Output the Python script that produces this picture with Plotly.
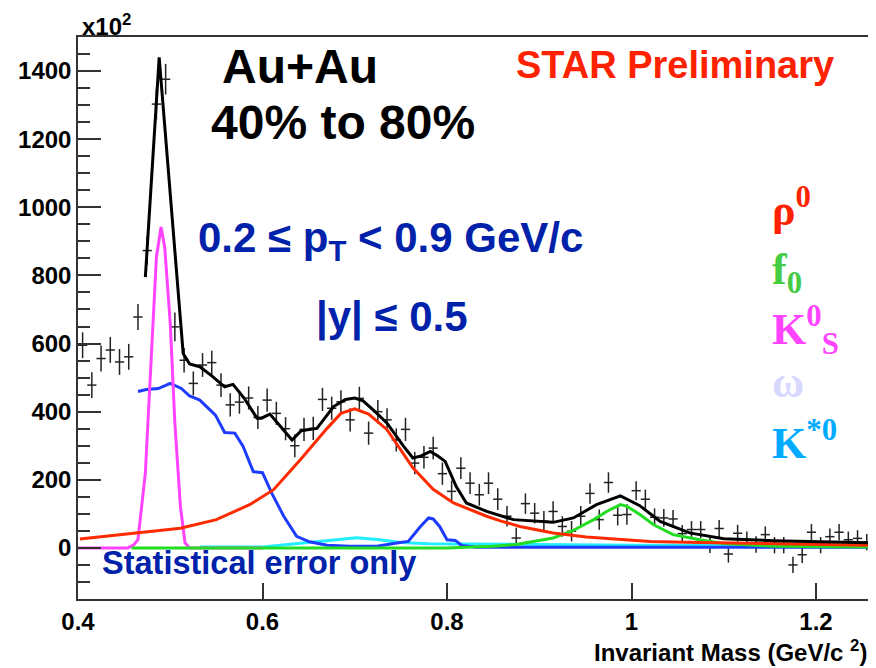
import plotly.graph_objects as go

# ---------------- data ----------------
mass_bins = [round(0.405 + 0.01 * i, 3) for i in range(86)]
counts = [595, 478, 556, 581, 546, 561, 678, 873, 1303, 1376,
          649, 551, 483, 537, 544, 478, 420, 428, 440, 383,
          434, 395, 350, 300, 348, 351, 436, 410, 429, 376,
          439, 337, 400, 376, 317, 348, 249, 266, 293, 218,
          166, 234, 190, 156, 190, 143, 93, 29, 130, 102,
          78, 107, 63, 49, 93, 160, 83, 192, 96, 98,
          168, 143, 90, 88, 85, 42, 54, 54, 10, 57,
          -18, 43, 24, 10, 39, 8, 8, -50, -20, 46,
          8, 33, 46, 24, 28, 17]
count_err = [38, 38, 38, 38, 38, 38, 38, 42, 45, 45,
             42, 36, 35, 35, 35, 35, 34, 34, 34, 34,
             34, 34, 34, 34, 34, 34, 34, 34, 34, 34,
             34, 34, 34, 34, 34, 34, 33, 33, 33, 33,
             32, 32, 32, 32, 32, 32, 30, 30, 30, 30,
             30, 30, 30, 30, 30, 30, 30, 30, 30, 30,
             28, 28, 26, 26, 26, 25, 25, 25, 25, 25,
             25, 25, 24, 24, 24, 24, 24, 24, 24, 24,
             24, 24, 24, 24, 24, 24]

total_mass = [0.473, 0.488, 0.514, 0.521, 0.532, 0.545, 0.559, 0.568, 0.580, 0.594,
              0.599, 0.608, 0.620, 0.632, 0.642, 0.659, 0.677, 0.690, 0.700, 0.709,
              0.722, 0.735, 0.753, 0.763, 0.772, 0.782, 0.790, 0.798, 0.810, 0.821,
              0.843, 0.872, 0.915, 0.937, 0.962, 0.988, 1.009, 1.031, 1.063, 1.100,
              1.154, 1.2585]
total_fit = [795, 1440, 571, 540, 532, 505, 473, 480, 440, 381,
             381, 393, 355, 317, 344, 351, 415, 436, 440, 432,
             400, 366, 298, 264, 270, 283, 270, 254, 180, 132,
             107, 83, 75, 88, 127, 153, 124, 78, 44, 27,
             21, 15]

rho_mass = [0.402, 0.460, 0.511, 0.550, 0.586, 0.612, 0.641, 0.670, 0.685, 0.700,
            0.715, 0.735, 0.763, 0.785, 0.807, 0.843, 0.857, 0.879, 0.915, 0.951,
            0.988, 1.020, 1.074, 1.180, 1.2585]
rho_fit = [26, 42, 58, 83, 127, 171, 259, 351, 395, 408,
           393, 347, 235, 172, 132, 93, 80, 63, 44, 32,
           24, 19, 16, 12, 8]

f0_mass = [0.458, 0.800, 0.850, 0.875, 0.915, 0.935, 0.959, 0.973, 0.988, 0.995,
           1.009, 1.024, 1.045, 1.074, 1.100, 1.154, 1.2585]
f0_fit = [0, 0, 5, 10, 29, 49, 83, 107, 127, 122,
          98, 68, 39, 24, 13, 5, 3]

k0s_mass = [0.400, 0.454, 0.460, 0.465, 0.473, 0.480, 0.485, 0.490, 0.494, 0.500,
            0.505, 0.511, 0.516, 0.521, 0.600]
k0s_fit = [0, 0, 8, 24, 220, 610, 854, 942, 883, 659,
           366, 122, 15, 0, 0]

omega_mass = [0.465, 0.474, 0.487, 0.500, 0.512, 0.521, 0.532, 0.549, 0.559, 0.570,
              0.579, 0.590, 0.600, 0.610, 0.623, 0.637, 0.651, 0.670, 0.695, 0.724,
              0.749, 0.758, 0.771, 0.780, 0.785, 0.792, 0.800, 0.809, 0.816, 0.832,
              1.2585]
omega_fit = [459, 465, 468, 483, 468, 446, 434, 390, 339, 337,
             298, 224, 221, 161, 93, 34, 18, 8, 5, 5,
             16, 19, 62, 88, 85, 63, 24, 22, 7, 2,
             2]

kstar_mass = [0.532, 0.600, 0.641, 0.677, 0.702, 0.727, 0.749, 0.780, 0.860, 1.000, 1.2585]
kstar_fit = [3, 3, 14, 24, 30, 24, 16, 12, 10, 8, 6]

x_ticks = [0.4, 0.6, 0.8, 1.0, 1.2]
y_ticks = [0, 200, 400, 600, 800, 1000, 1200, 1400]

# ---------------- layout helpers ----------------
# The page body adds an 8px margin, so the figure is drawn 8px in from the
# top-left corner of the window; the figure is sized to fill the rest.
OFF = 8
W, H = 876 - OFF, 668 - OFF
ML, MR, MT, MB = 78 - OFF, 6, 37 - OFF, 69
PW, PH = W - ML - MR, H - MT - MB


def px(x):  # window pixel -> paper
    return (x - OFF - ML) / PW


def py(y):
    return (H - MB - (y - OFF)) / PH


SANS = "Liberation Sans, Arial, Helvetica, sans-serif"
SERIF = "Liberation Serif, Times New Roman, serif"

fig = go.Figure()

fig.add_trace(go.Scatter(
    x=mass_bins, y=counts, mode="markers",
    marker=dict(size=0, color="rgba(0,0,0,0)"),
    error_y=dict(type="data", array=count_err, width=0, thickness=1.5, color="#222222"),
    error_x=dict(type="constant", value=0.005, width=0, thickness=1.5, color="#222222"),
    hoverinfo="skip"))

curves = [
    (kstar_mass, kstar_fit, "#22eeff"),
    (omega_mass, omega_fit, "#1e3cff"),
    (k0s_mass, k0s_fit, "#ff44ff"),
    (f0_mass, f0_fit, "#22dd22"),
    (rho_mass, rho_fit, "#ff2b00"),
    (total_mass, total_fit, "#000000"),
]
for xs, ys, col in curves:
    fig.add_trace(go.Scatter(x=xs, y=ys, mode="lines",
                             line=dict(color=col, width=3), hoverinfo="skip"))

ann = []


def add_text(text, x, y, size, color, family=SANS, xanchor="center", bold=True):
    ann.append(dict(text=text, x=px(x), y=py(y), xref="paper", yref="paper",
                    showarrow=False, xanchor=xanchor, yanchor="middle",
                    font=dict(family=family, size=size, color=color,
                              weight="bold" if bold else "normal")))


add_text("x10<sup>2</sup>", 80, 25, 24, "#000000", xanchor="left")
add_text("Au+Au", 300, 66, 48, "#000000")
add_text("40% to 80%", 343, 123, 48, "#000000")
add_text("STAR Preliminary", 675, 65, 38, "#ff2200")
add_text("0.2 ≤ p<sub>T</sub> &lt; 0.9 GeV/c", 390, 240, 42, "#0022aa")
add_text("|y| ≤ 0.5", 392, 317, 42, "#0022aa")
add_text("Statistical error only", 100, 563, 32.5, "#0022aa", xanchor="left")
add_text("Invariant Mass (GeV/c <sup>2</sup>)", 869, 651, 24, "#000000", xanchor="right")

add_text("ρ<sup>0</sup>", 770, 207, 44, "#ff2200", family=SERIF, xanchor="left")
add_text("f<sub>0</sub>", 770, 272, 44, "#44cc44", family=SERIF, xanchor="left")
add_text("K<sup>0</sup><sub>S</sub>", 770, 330, 44, "#ff44ff", family=SERIF, xanchor="left")
add_text("ω", 770, 382, 44, "#d8d8ff", family=SERIF, xanchor="left")
add_text("K<sup>*0</sup>", 770, 440, 44, "#00aaff", family=SERIF, xanchor="left")

fig.update_layout(
    width=W, height=H,
    margin=dict(l=ML, r=MR, t=MT, b=MB, pad=0, autoexpand=False),
    paper_bgcolor="white", plot_bgcolor="white",
    showlegend=False,
    annotations=ann,
    xaxis=dict(range=[0.4, 1.2585], tickvals=x_ticks, ticks="inside", ticklen=16,
               tickwidth=1.5, tickcolor="#333333", showline=True, linecolor="#333333",
               linewidth=1.5, mirror=True, showgrid=False, zeroline=False,
               automargin=False,
               tickfont=dict(family=SANS, size=24, color="#000000", weight="bold"),
               ticklabelstandoff=0),
    yaxis=dict(range=[-150, 1500], tickvals=y_ticks, ticks="inside", ticklen=23,
               tickwidth=1.5, tickcolor="#333333", showline=True, linecolor="#333333",
               linewidth=1.5, mirror=True, showgrid=False, zeroline=False,
               automargin=False,
               tickfont=dict(family=SANS, size=24, color="#000000", weight="bold"),
               minor=dict(ticks="inside", ticklen=12, dtick=50, tick0=0,
                          tickwidth=1.5, tickcolor="#333333", showgrid=False)),
)

fig.write_html("out.html")
